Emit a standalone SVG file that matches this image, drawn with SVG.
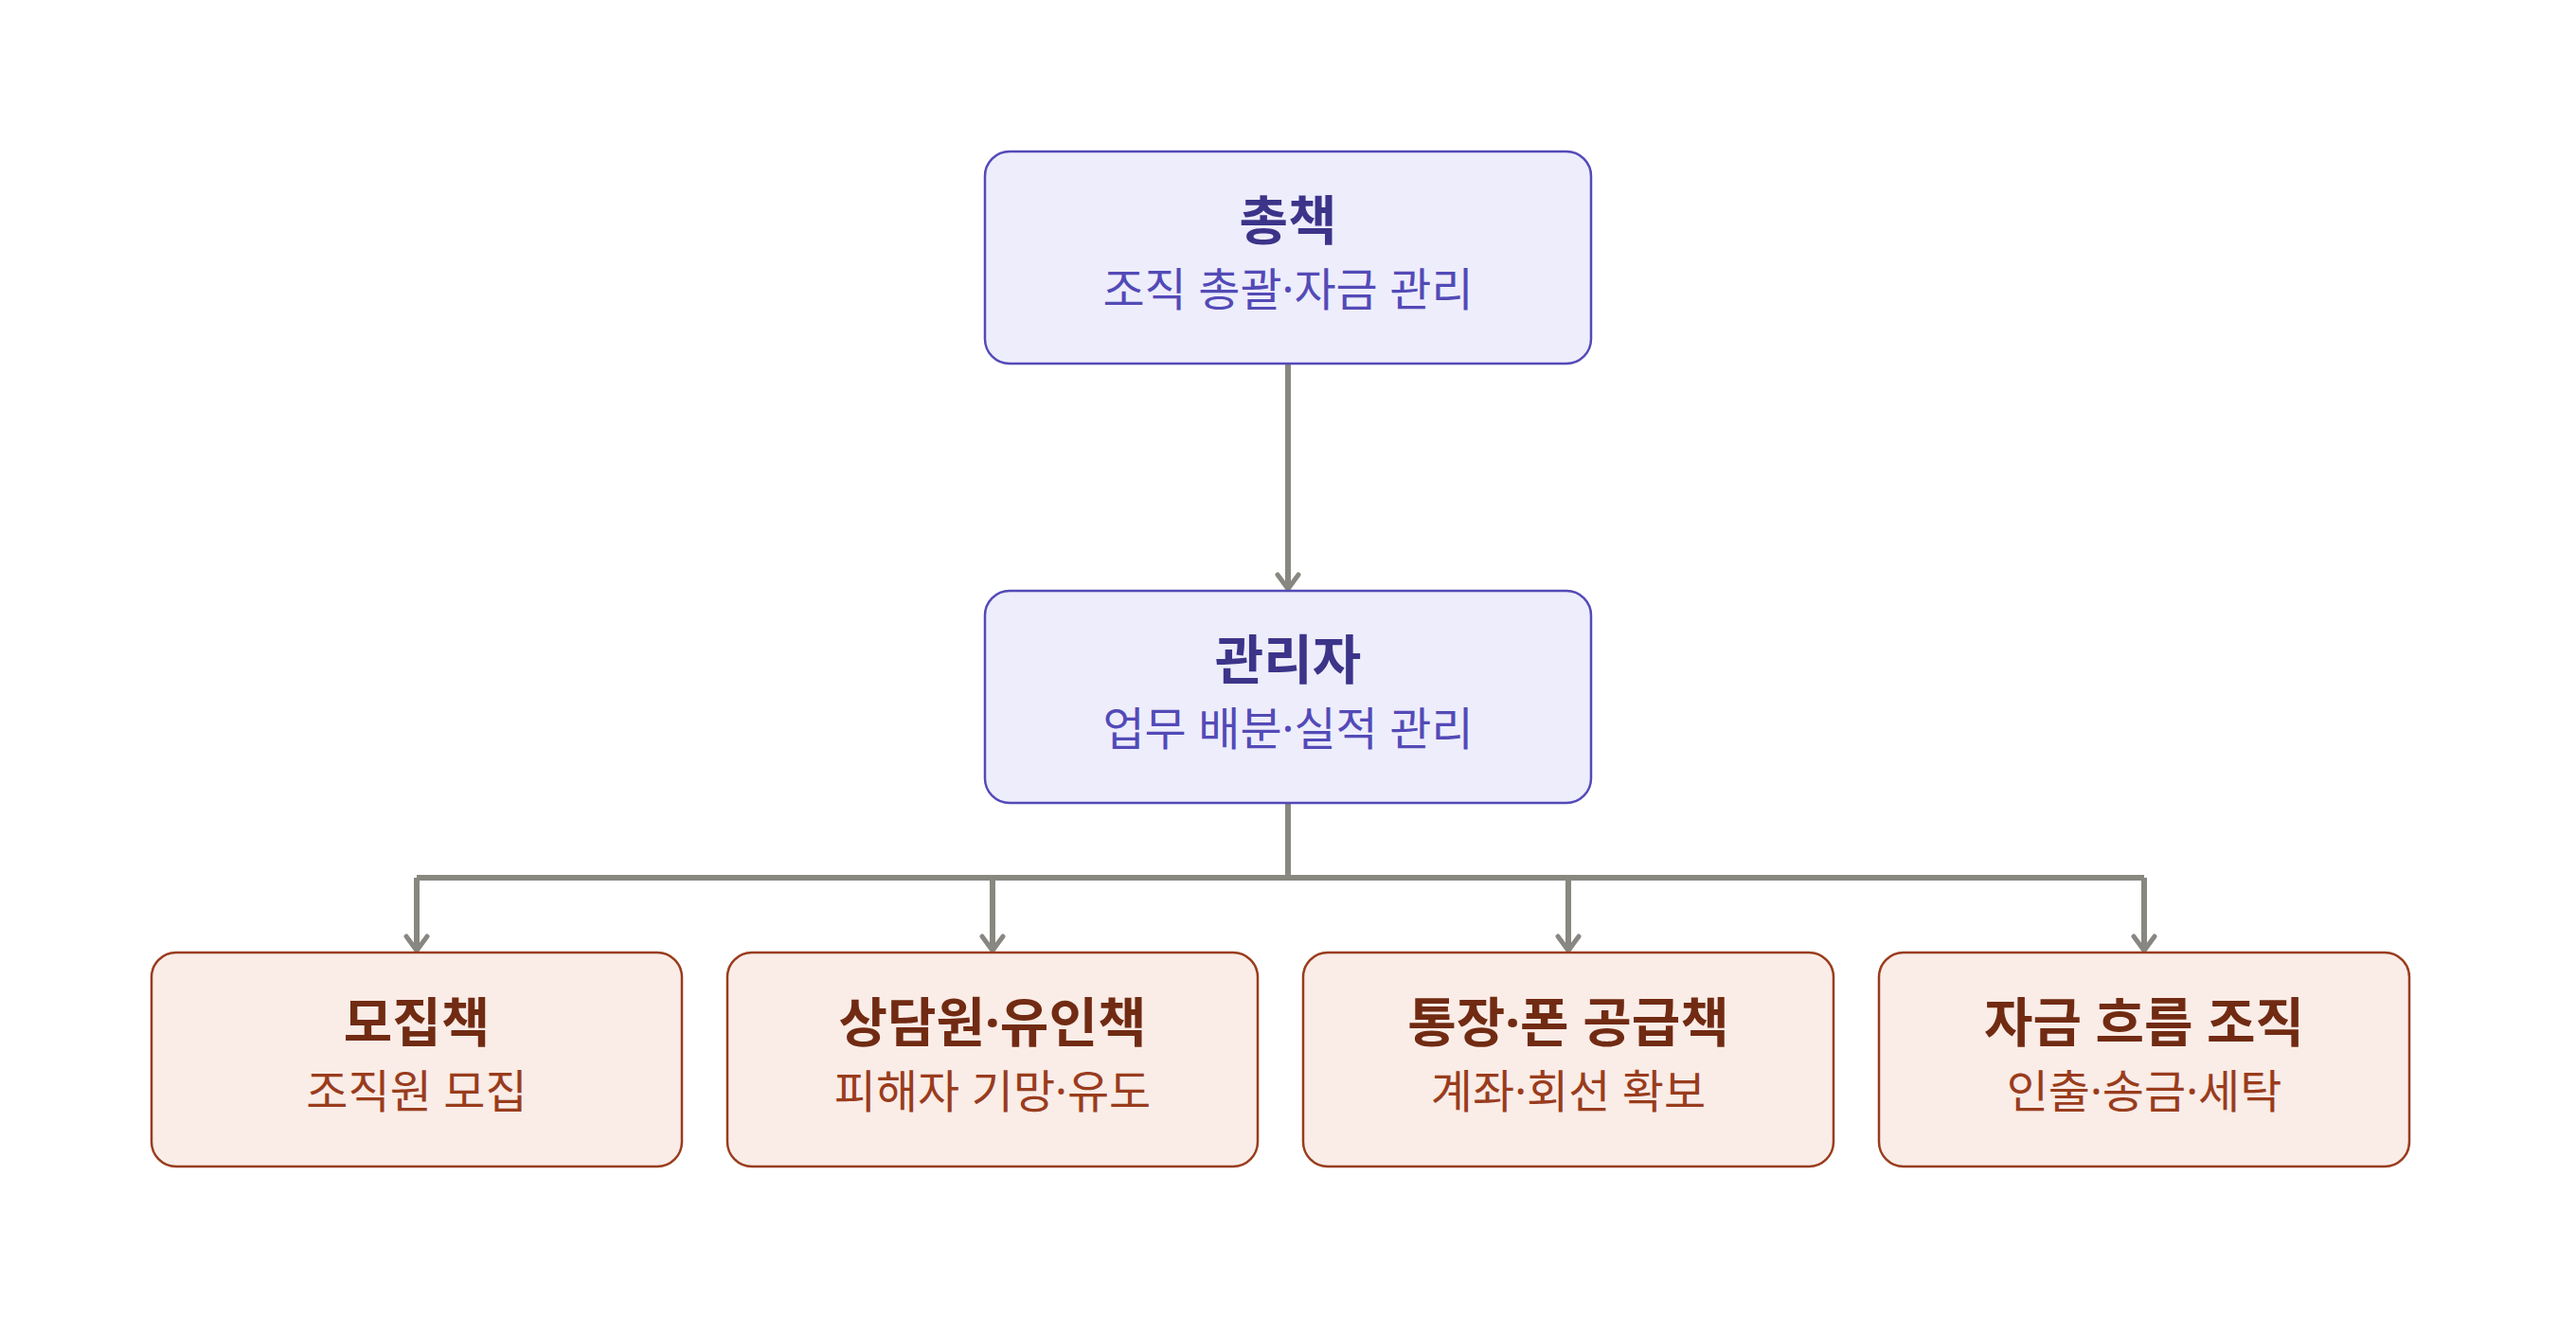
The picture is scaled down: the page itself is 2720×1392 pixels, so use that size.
<svg xmlns="http://www.w3.org/2000/svg" width="2720" height="1392" viewBox="0 0 2720 1392">
<defs>
<style>
.t{font-family:"Noto Sans","Noto Sans CJK KR",sans-serif;text-anchor:middle}
.tt{font-size:56px;font-weight:700}
.st{font-size:48px;font-weight:400}
.p rect{fill:#EEEDFC;stroke:#534AB7;stroke-width:2.5}
.p .tt{fill:#3C3489}
.p .st{fill:#534AB7}
.o rect{fill:#FAECE7;stroke:#993C1D;stroke-width:2.5}
.o .tt{fill:#712B13}
.o .st{fill:#993C1D}
.c{fill:none;stroke:#888780;stroke-width:6}
</style>
<marker id="ah" viewBox="0 0 28 28" refX="22" refY="14" markerWidth="28" markerHeight="28" markerUnits="userSpaceOnUse" orient="auto">
<path d="M7,3 L22,14 L7,25" fill="none" stroke="#888780" stroke-width="5" stroke-linecap="round" stroke-linejoin="round"/>
</marker>
</defs>
<rect width="2720" height="1392" fill="#ffffff"/>
<g id="connectors">
<line class="c" x1="1360" y1="384" x2="1360" y2="622" marker-end="url(#ah)"/>
<line class="c" x1="1360" y1="848" x2="1360" y2="927"/>
<line class="c" x1="440" y1="927" x2="2264" y2="927"/>
<line class="c" x1="440" y1="927" x2="440" y2="1004" marker-end="url(#ah)"/>
<line class="c" x1="1048" y1="927" x2="1048" y2="1004" marker-end="url(#ah)"/>
<line class="c" x1="1656" y1="927" x2="1656" y2="1004" marker-end="url(#ah)"/>
<line class="c" x1="2264" y1="927" x2="2264" y2="1004" marker-end="url(#ah)"/>
</g>
<g id="boss" class="p">
<rect x="1040" y="160" width="640" height="224" rx="26"/>
<text class="t tt" x="1360" y="253">총책</text>
<text class="t st" x="1360" y="323">조직 총괄·자금 관리</text>
</g>
<g id="manager" class="p">
<rect x="1040" y="624" width="640" height="224" rx="26"/>
<text class="t tt" x="1360" y="717">관리자</text>
<text class="t st" x="1360" y="787">업무 배분·실적 관리</text>
</g>
<g id="recruit" class="o">
<rect x="160" y="1006" width="560" height="226" rx="26"/>
<text class="t tt" x="440" y="1100">모집책</text>
<text class="t st" x="440" y="1170">조직원 모집</text>
</g>
<g id="counsel" class="o">
<rect x="768" y="1006" width="560" height="226" rx="26"/>
<text class="t tt" x="1048" y="1100">상담원·유인책</text>
<text class="t st" x="1048" y="1170">피해자 기망·유도</text>
</g>
<g id="supply" class="o">
<rect x="1376" y="1006" width="560" height="226" rx="26"/>
<text class="t tt" x="1656" y="1100">통장·폰 공급책</text>
<text class="t st" x="1656" y="1170">계좌·회선 확보</text>
</g>
<g id="money" class="o">
<rect x="1984" y="1006" width="560" height="226" rx="26"/>
<text class="t tt" x="2264" y="1100">자금 흐름 조직</text>
<text class="t st" x="2264" y="1170">인출·송금·세탁</text>
</g>
</svg>
